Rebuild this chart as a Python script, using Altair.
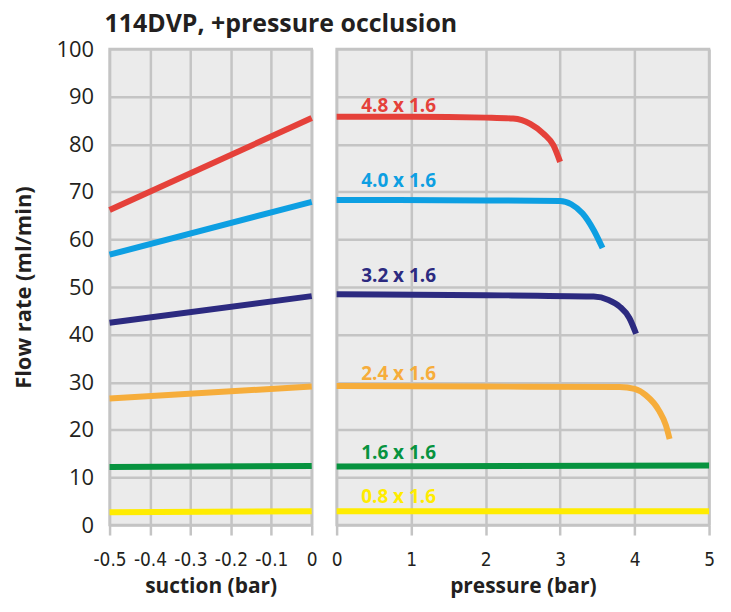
import altair as alt
import pandas as pd

# ---- data ----
series = ["4.8 x 1.6", "4.0 x 1.6", "3.2 x 1.6", "2.4 x 1.6", "1.6 x 1.6", "0.8 x 1.6"]
colors = ["#e5413a", "#0d9fe2", "#2c2a80", "#f6ad3b", "#07933f", "#ffec00"]

# suction side (straight lines from -0.5 to 0 bar)
suction_x = [-0.5, 0.0]
suction_red = [66.2, 85.5]
suction_blue = [56.8, 67.9]
suction_navy = [42.5, 48.1]
suction_orange = [26.6, 29.1]
suction_green = [12.2, 12.4]
suction_yellow = [2.7, 2.9]

# pressure side
pressure_red_x = [0.0, 1.0, 2.0, 2.37, 2.6, 2.78, 2.91, 3.0]
pressure_red_y = [85.8, 85.8, 85.6, 85.4, 84.3, 82.2, 79.8, 76.3]
pressure_blue_x = [0.0, 2.0, 3.0, 3.15, 3.3, 3.45, 3.57]
pressure_blue_y = [68.3, 68.2, 68.1, 67.4, 65.5, 62.0, 58.2]
pressure_navy_x = [0.0, 2.0, 3.45, 3.65, 3.8, 3.93, 4.02]
pressure_navy_y = [48.5, 48.3, 48.0, 47.3, 45.9, 43.5, 40.2]
pressure_orange_x = [0.0, 2.0, 3.8, 4.0, 4.15, 4.33, 4.42, 4.47]
pressure_orange_y = [29.2, 29.1, 29.0, 28.6, 27.3, 24.0, 21.0, 18.1]
pressure_green_x = [0.0, 5.0]
pressure_green_y = [12.3, 12.5]
pressure_yellow_x = [0.0, 5.0]
pressure_yellow_y = [2.9, 2.9]

label_x = [0.33, 0.33, 0.33, 0.33, 0.33, 0.33]
label_y = [88.1, 72.2, 52.4, 31.8, 15.1, 5.9]

y_ticks = [0, 10, 20, 30, 40, 50, 60, 70, 80, 90, 100]
suction_ticks = [-0.5, -0.4, -0.3, -0.2, -0.1, 0]
pressure_ticks = [0, 1, 2, 3, 4, 5]

# ---- tables ----
suction_vals = [suction_red, suction_blue, suction_navy, suction_orange, suction_green, suction_yellow]
rows = []
for s, vals in zip(series, suction_vals):
    for x, y in zip(suction_x, vals):
        rows.append({"series": s, "x": x, "y": y})
suction_df = pd.DataFrame(rows)

pressure_xs = [pressure_red_x, pressure_blue_x, pressure_navy_x, pressure_orange_x, pressure_green_x, pressure_yellow_x]
pressure_ys = [pressure_red_y, pressure_blue_y, pressure_navy_y, pressure_orange_y, pressure_green_y, pressure_yellow_y]
rows = []
for s, xs, ys in zip(series, pressure_xs, pressure_ys):
    for x, y in zip(xs, ys):
        rows.append({"series": s, "x": x, "y": y})
pressure_df = pd.DataFrame(rows)

label_df = pd.DataFrame({"series": series, "x": label_x, "y": label_y})

color = alt.Color("series:N", scale=alt.Scale(domain=series, range=colors), legend=None)
yscale = alt.Scale(domain=[0, 100], nice=False, zero=False)

TXT = "#231f20"
GRID = "#c4c4c4"
NARROW = "Liberation Sans Narrow, DejaVu Sans Condensed, sans-serif"

grid_opts = dict(grid=True, gridColor=GRID, gridWidth=2.5, gridOpacity=1, domain=False)

left_y_axis = alt.Axis(
    values=y_ticks, title="Flow rate (ml/min)", ticks=False, labelPadding=16, titlePadding=21,
    labelFont="Open Sans", labelFontSize=22, labelColor=TXT,
    titleFont="Open Sans", titleFontSize=22, titleFontWeight="bold", titleColor=TXT,
    **grid_opts,
)
left_x_axis = alt.Axis(
    values=suction_ticks, title="suction (bar)", labelExpr="toString(datum.value)",
    labelFlush=False, labelOverlap=False, labelPadding=16, titlePadding=6,
    ticks=True, tickColor=GRID, tickWidth=2.5, tickSize=10,
    labelFont=NARROW, labelFontSize=19, labelColor=TXT,
    titleFont="Open Sans", titleFontSize=21, titleFontWeight="bold", titleColor=TXT,
    **grid_opts,
)

left = alt.Chart(suction_df).mark_line(strokeWidth=6).encode(
    x=alt.X("x:Q", scale=alt.Scale(domain=[-0.5, 0], nice=False, zero=False), axis=left_x_axis),
    y=alt.Y("y:Q", scale=yscale, axis=left_y_axis),
    color=color,
).properties(width=203, height=478)

right_y_axis = alt.Axis(values=y_ticks, title=None, ticks=False, labels=False, **grid_opts)
right_x_axis = alt.Axis(
    values=pressure_ticks, title="pressure (bar)",
    labelFlush=False, labelOverlap=False, labelPadding=16, titlePadding=6,
    ticks=True, tickColor=GRID, tickWidth=2.5, tickSize=10,
    labelFont=NARROW, labelFontSize=19, labelColor=TXT,
    titleFont="Open Sans", titleFontSize=21, titleFontWeight="bold", titleColor=TXT,
    **grid_opts,
)
right_x = alt.X("x:Q", scale=alt.Scale(domain=[0, 5], nice=False, zero=False), axis=right_x_axis)
right_y = alt.Y("y:Q", scale=yscale, axis=right_y_axis)

right_lines = alt.Chart(pressure_df).mark_line(strokeWidth=6, interpolate="monotone").encode(
    x=right_x, y=right_y, color=color,
)
right_labels = alt.Chart(label_df).mark_text(
    align="left", baseline="middle", font="Open Sans", fontSize=19, fontWeight="bold",
).encode(x=right_x, y=right_y, text="series:N", color=color)

right = alt.layer(right_lines, right_labels).properties(width=374, height=478)

chart = alt.hconcat(left, right, spacing=25, bounds="flush").properties(
    title=alt.Title(
        "114DVP, +pressure occlusion", anchor="start", frame="group",
        font="Open Sans", fontSize=25, fontWeight="bold", color=TXT, offset=0, dx=-5,
    ),
    padding={"left": 3, "top": 2, "right": 0, "bottom": 0},
    background="white",
).configure_view(
    fill="#ebebeb", stroke=GRID, strokeWidth=2.5,
)

chart.save("out.html", embed_options={"renderer": "svg", "actions": False})
